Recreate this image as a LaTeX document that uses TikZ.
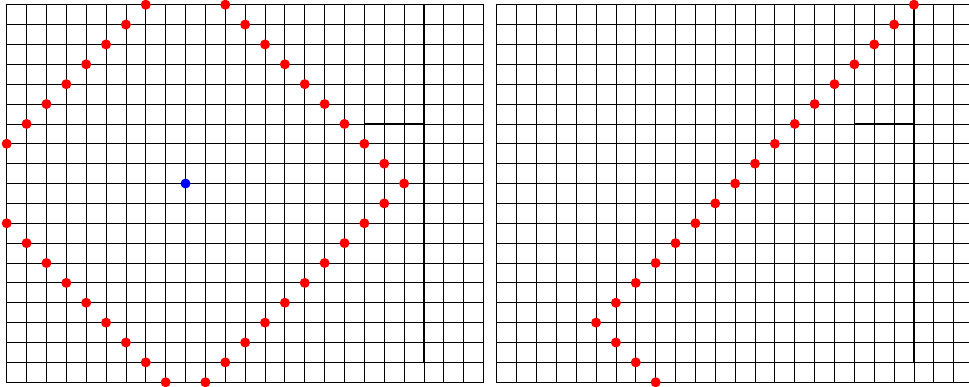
\documentclass[tikz,border=0pt]{standalone}
\begin{document}
\begin{tikzpicture}[x=19.87pt,y=-19.87pt,
  gridline/.style={line width=0.8pt,black},
  outerframe/.style={line width=1.2pt,black},
  frame/.style={line width=1.4pt,black},
  notch/.style={line width=0.95pt,black},
  rdot/.style={fill=red},
  bdot/.style={fill=blue}]
\path[use as bounding box] (-0.337,-0.2365) rectangle (48.43,19.24);
\clip (-0.337,-0.2365) rectangle (48.43,19.24);
\foreach \ox in {0,24.66}{
  \begin{scope}[shift={(\ox,0)}]
    \foreach \k in {0,...,24} \draw[gridline] (\k,0) -- (\k,19);
    \foreach \k in {0,...,19} \draw[gridline] (0,\k) -- (24,\k);
    \draw[outerframe] (0,0) rectangle (24,19);
    \draw[notch] (18,18) -- (18,6) -- (21,6);
    \draw[frame] (0,0) rectangle (21,18);
  \end{scope}
}
% left grid: diamond of red points around the blue centre
\foreach \i/\j in {7/0,11/0,6/1,12/1,5/2,13/2,4/3,14/3,3/4,15/4,2/5,16/5,1/6,17/6,
  0/7,18/7,19/8,20/9,19/10,0/11,18/11,1/12,17/12,2/13,16/13,3/14,15/14,4/15,14/15,
  5/16,13/16,6/17,12/17,7/18,11/18,8/19,10/19}
  \fill[rdot] (\i,\j) circle[radius=5pt];
\fill[bdot] (9,9) circle[radius=5pt];
% right grid: red points along a diagonal
\begin{scope}[shift={(24.66,0)}]
\foreach \i/\j in {21/0,20/1,19/2,18/3,17/4,16/5,15/6,14/7,13/8,12/9,11/10,10/11,
  9/12,8/13,7/14,6/15,5/16,6/17,7/18,8/19}
  \fill[rdot] (\i,\j) circle[radius=5pt];
\end{scope}
\end{tikzpicture}
\end{document}
